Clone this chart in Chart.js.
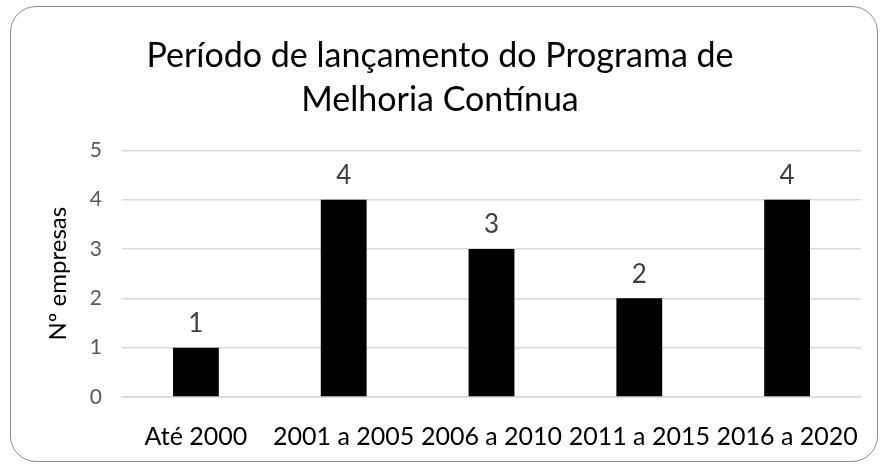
<!DOCTYPE html>
<html>
<head>
<meta charset="utf-8">
<script src="https://cdn.jsdelivr.net/npm/chart.js@4"></script>
<style>
    html, body { margin: 0; padding: 0; background: #fff; }
    #wrap { position: relative; width: 880px; height: 464px; }
    #frame {
        position: absolute; left: 10px; top: 6px; width: 866px; height: 454px;
        border: 1.5px solid #8a8a8a; border-radius: 26px; pointer-events: none;
    }
</style>
</head>
<body>
<div id="wrap">
    <canvas id="chart" width="880" height="464"></canvas>
    <div id="frame"></div>
</div>
<script>
// chart data
const categories = ['Até 2000', '2001 a 2005', '2006 a 2010', '2011 a 2015', '2016 a 2020'];
const companies = [1, 4, 3, 2, 4];
const yTicks = [0, 1, 2, 3, 4, 5];

const FONT = 'Lato, "Open Sans", sans-serif';

// draws the value above each bar
const barLabels = {
    id: 'barLabels',
    afterDatasetsDraw(chart) {
        const ctx = chart.ctx;
        const meta = chart.getDatasetMeta(0);
        ctx.save();
        ctx.fillStyle = '#404040';
        ctx.font = '26px ' + FONT;
        ctx.textAlign = 'center';
        ctx.textBaseline = 'bottom';
        meta.data.forEach((bar, i) => {
            ctx.fillText(String(companies[i]), bar.x, bar.y - 11);
        });
        ctx.restore();
    }
};

new Chart(document.getElementById('chart'), {
    type: 'bar',
    data: {
        labels: categories,
        datasets: [{
            label: 'Nº empresas',
            data: companies,
            backgroundColor: '#000000',
            borderWidth: 0,
            barPercentage: 0.31,
            categoryPercentage: 1,
        }],
    },
    options: {
        responsive: false,
        animation: false,
        layout: { padding: { left: 19, right: 19, top: 0, bottom: 10 } },
        plugins: {
            legend: { display: false },
            tooltip: { enabled: false },
            title: {
                display: true,
                text: ['Período de lançamento do Programa de', 'Melhoria Contínua'],
                color: '#000000',
                font: { family: FONT, size: 34, weight: 'normal', lineHeight: 1.3 },
                padding: { top: 34, bottom: 28 },
            },
        },
        scales: {
            y: {
                min: 0,
                max: 5,
                afterBuildTicks(scale) {
                    scale.ticks = yTicks.map(v => ({ value: v }));
                },
                afterFit(scale) { scale.width = 103; },
                ticks: {
                    color: '#595959',
                    font: { family: FONT, size: 21 },
                    padding: 20,
                },
                grid: { color: '#d9d9d9', lineWidth: 1.5, drawTicks: false },
                border: { display: false },
                title: {
                    display: true,
                    text: 'Nº empresas',
                    color: '#000000',
                    font: { family: FONT, size: 24 },
                    padding: { top: 25, bottom: 0 },
                },
            },
            x: {
                afterFit(scale) { scale.height = 57; },
                ticks: {
                    color: '#000000',
                    font: { family: FONT, size: 25 },
                    padding: 17,
                    maxRotation: 0,
                    autoSkip: false,
                },
                grid: { display: false },
                border: { color: '#d9d9d9', width: 1.5 },
            },
        },
    },
    plugins: [barLabels],
});
</script>
</body>
</html>
